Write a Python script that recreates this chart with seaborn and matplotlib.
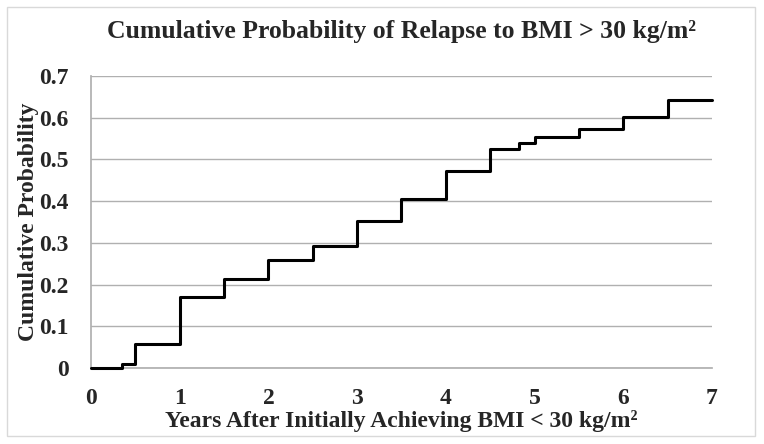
import pandas as pd
import matplotlib.pyplot as plt
import seaborn as sns
from matplotlib.patches import Rectangle

# --- data ---
years = [0, 0.35, 0.5, 1.0, 1.5, 2.0, 2.5, 3.0, 3.5, 4.0, 4.5, 4.83, 5.0, 5.5, 6.0, 6.5, 7.0]
cum_prob = [0, 0.010, 0.058, 0.170, 0.213, 0.258, 0.293, 0.353, 0.405, 0.471,
            0.525, 0.540, 0.554, 0.573, 0.602, 0.643, 0.643]
x_ticks = [0, 1, 2, 3, 4, 5, 6, 7]
y_ticks = [0, 0.1, 0.2, 0.3, 0.4, 0.5, 0.6, 0.7]

df = pd.DataFrame({"years": years, "prob": cum_prob})

sns.set_theme(style="white")
plt.rcParams['font.family'] = ['Liberation Serif', 'DejaVu Serif']
plt.rcParams['font.weight'] = 'bold'

fig = plt.figure(figsize=(7.64, 4.44), dpi=100)
ax = fig.add_axes([0.119, 0.171, 0.813, 0.658])

sns.lineplot(data=df, x="years", y="prob", drawstyle="steps-post",
             color="black", linewidth=2.2, ax=ax)
for ln in ax.get_lines():
    ln.set_clip_on(False)
    ln.set_zorder(5)

ax.set_xlim(0, 7)
ax.set_ylim(0, 0.7)
ax.set_xticks(x_ticks)
ax.set_yticks(y_ticks)
ax.set_xticklabels([str(t) for t in x_ticks], fontsize=17, fontweight='bold')
ax.set_yticklabels(["0"] + [f"{t:.1f}" for t in y_ticks[1:]], fontsize=17, fontweight='bold')
ax.tick_params(axis='x', length=0, pad=14)
ax.tick_params(axis='y', length=0, pad=16)

ax.grid(axis='y', color='#b0b0b0', linewidth=1)
ax.grid(axis='x', visible=False)
for side in ['top', 'right']:
    ax.spines[side].set_visible(False)
ax.spines['left'].set_color('#b0b0b0')
ax.spines['bottom'].set_color('#b0b0b0')

ax.set_xlabel("Years After Initially Achieving BMI < 30 kg/m²", fontsize=17,
              fontweight='bold', labelpad=1)
ax.set_ylabel("Cumulative Probability", fontsize=17, fontweight='bold', labelpad=0)
ax.set_title("Cumulative Probability of Relapse to BMI > 30 kg/m²", fontsize=18.5,
             fontweight='bold', pad=27)

fig.patches.append(Rectangle((0.009, 0.018), 0.979, 0.966, transform=fig.transFigure,
                             fill=False, edgecolor='#d9d9d9', linewidth=1))

fig.savefig("out.png", dpi=100)
plt.close()
